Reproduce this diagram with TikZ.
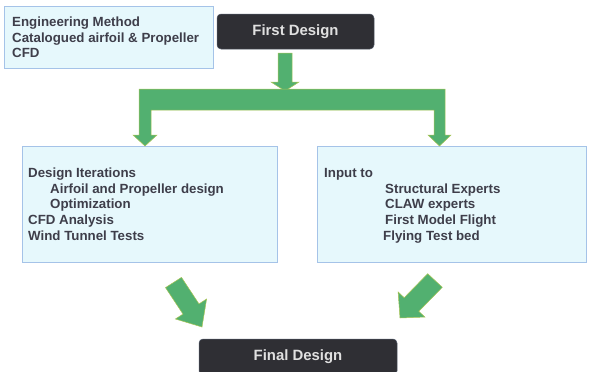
\documentclass[tikz,border=0pt]{standalone}
\usepackage{fontspec}
\setmainfont{Liberation Sans}
\definecolor{boxfill}{RGB}{230,248,252}
\definecolor{boxline}{RGB}{165,195,232}
\definecolor{darkbox}{RGB}{47,47,52}
\definecolor{arrowfill}{RGB}{82,176,112}
\definecolor{arrowline}{RGB}{168,196,84}
\definecolor{txt}{RGB}{62,62,74}
\begin{document}
\begin{tikzpicture}[x=1pt,y=-1pt,
  infobox/.style={draw=boxline, fill=boxfill, line width=0.6pt, anchor=north west, inner sep=0pt, outer sep=0pt},
  titlebox/.style={fill=darkbox, draw=darkbox!70!boxline, line width=0.5pt, rounded corners=4pt,
    anchor=north west, inner sep=0pt, outer sep=0pt,
    font=\bfseries\fontsize{14.9}{17}\selectfont, text=white!88!black},
  blockarrow/.style={fill=arrowfill, draw=arrowline, line width=0.5pt, line join=miter},
  textline/.style={anchor=base west, inner sep=0pt, text=txt, font=\bfseries\fontsize{13.3}{15}\selectfont}]
\useasboundingbox (0,0) rectangle (589,372);

% method box and title blocks
\node[infobox, minimum width=209pt, minimum height=62pt] (methods) at (4,6) {};
\node[textline] (m1) at (12,26.5) {Engineering Method};
\node[textline] (m2) at (12,42) {Catalogued airfoil \& Propeller};
\node[textline] (m3) at (12,57.5) {CFD};

\node[titlebox, minimum width=157pt, minimum height=35pt] (first) at (217,14) {First Design};
\node[titlebox, minimum width=198pt, minimum height=36pt] (final) at (199,339) {Final Design};

% the two work boxes
\node[infobox, minimum width=255pt, minimum height=116pt] (left) at (22,146) {};
\node[textline] (l1) at (28,177.5) {Design Iterations};
\node[textline] (l2) at (50,193.2) {Airfoil and Propeller design};
\node[textline] (l3) at (50,208.9) {Optimization};
\node[textline] (l4) at (28,224.6) {CFD Analysis};
\node[textline] (l5) at (28,240.3) {Wind Tunnel Tests};

\node[infobox, minimum width=269pt, minimum height=116pt] (right) at (317,146) {};
\node[textline] (r1) at (324,177.5) {Input to};
\node[textline] (r2) at (385,193.2) {Structural Experts};
\node[textline] (r3) at (385,208.9) {CLAW experts};
\node[textline] (r4) at (385,224.6) {First Model Flight};
\node[textline] (r5) at (383,240.3) {Flying Test bed};

% block arrows
\draw[blockarrow] (278,53) -- (292,53) -- (292,82) -- (299,82) -- (285,91) -- (271,82) -- (278,82) -- cycle;
\draw[blockarrow] (139,89) -- (445,89) -- (445,135) -- (451,135) -- (439.5,146) -- (428,135) -- (434,135)
  -- (434,110) -- (151,110) -- (151,135) -- (157,135) -- (145,146) -- (133,135) -- (139,135) -- cycle;
\draw[blockarrow] (165.5,287.6) -- (181.5,277.4) -- (199,303.9) -- (206.6,299) -- (202,327)
  -- (175.4,319) -- (183,314.1) -- cycle;
\draw[blockarrow] (427.7,273.7) -- (442.3,287.3) -- (418.8,311.3) -- (424.9,317.05) -- (400,318)
  -- (398.1,291.95) -- (404.2,297.7) -- cycle;
\end{tikzpicture}
\end{document}
